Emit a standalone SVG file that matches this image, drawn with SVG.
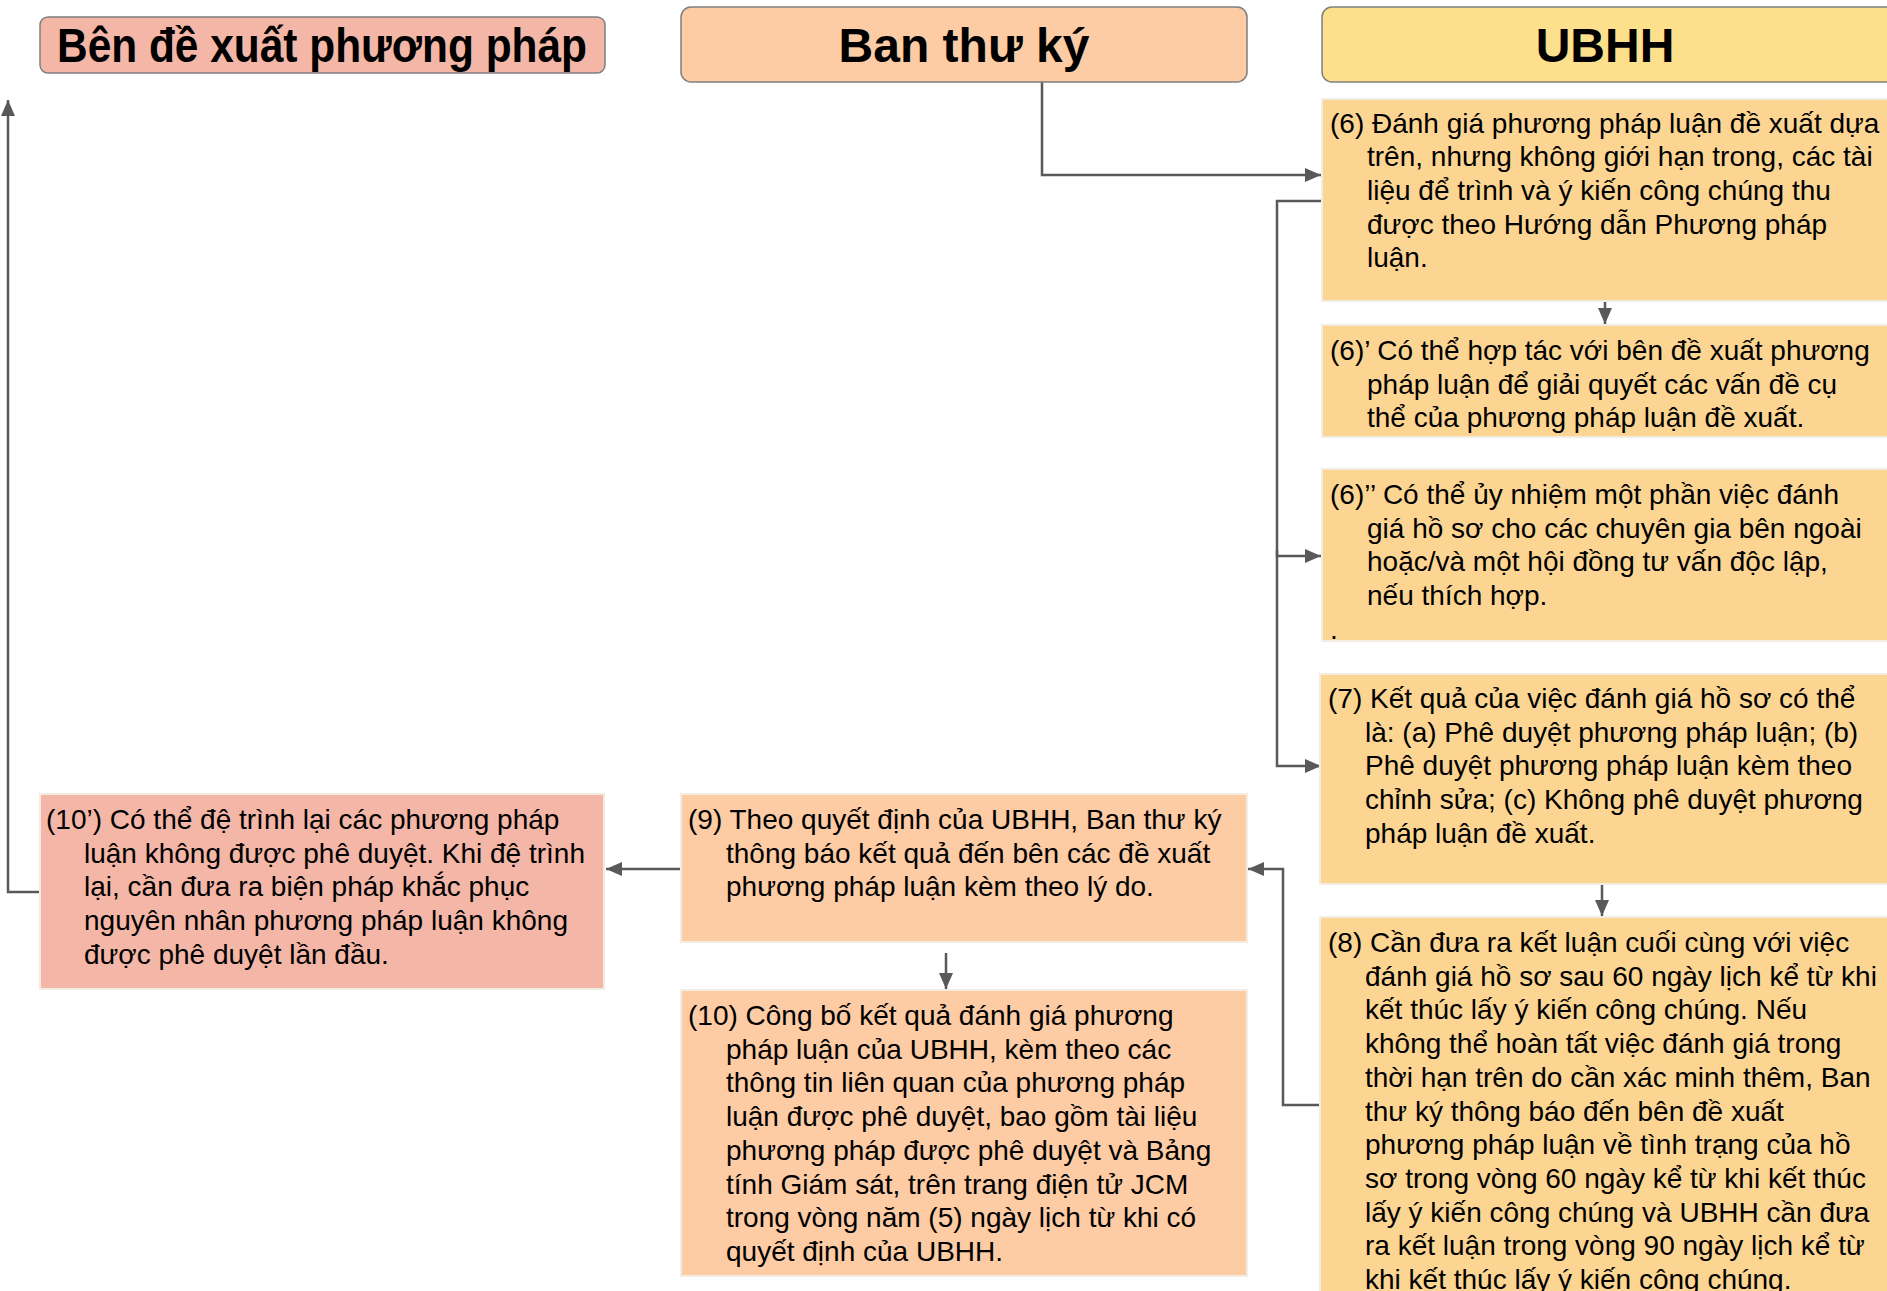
<svg xmlns="http://www.w3.org/2000/svg" width="1887" height="1291" viewBox="0 0 1887 1291">
<style>
.hdr{stroke:#7f7f7f;stroke-width:1.5}
.h{font-family:"Liberation Sans",Arial,sans-serif;font-weight:bold;font-size:48px;fill:#000;text-anchor:middle}
.t{font-family:"Liberation Sans",Arial,sans-serif;font-size:28px;fill:#000}
.box{stroke:#f2ece3;stroke-width:2}
.y{fill:#fdd592}
.p{fill:#fdcba4}
.s{fill:#f4b6a6}
.c{fill:none;stroke:#595959;stroke-width:2.5}
</style>
<defs>
<marker id="ah" markerUnits="userSpaceOnUse" markerWidth="16" markerHeight="14" refX="16" refY="7" orient="auto">
<path d="M0,0 L16,7 L0,14 z" fill="#595959"/>
</marker>
</defs>
<rect width="1887" height="1291" fill="#ffffff"/>

<g id="connectors">
<path class="c" d="M1042,82 V175 H1321" marker-end="url(#ah)"/>
<path class="c" d="M1322,201 H1277 V556 H1321" marker-end="url(#ah)"/>
<path class="c" d="M1277,550 V766 H1321" marker-end="url(#ah)"/>
<path class="c" d="M1605,301 V324" marker-end="url(#ah)"/>
<path class="c" d="M1602,884 V916" marker-end="url(#ah)"/>
<path class="c" d="M1320,1105 H1283 V869 H1248" marker-end="url(#ah)"/>
<path class="c" d="M681,869 H606" marker-end="url(#ah)"/>
<path class="c" d="M946,953 V989" marker-end="url(#ah)"/>
<path class="c" d="M40,892 H8 V100" marker-end="url(#ah)"/>
</g>

<g id="hdr-proponent">
<rect class="hdr s" x="40" y="17" width="565" height="56" rx="8"/>
<text class="h" x="322" y="62" font-size="47" textLength="530" lengthAdjust="spacingAndGlyphs">Bên đề xuất phương pháp</text>
</g>
<g id="hdr-secretariat">
<rect class="hdr p" x="681" y="7" width="566" height="75" rx="10"/>
<text class="h" x="964" y="62">Ban thư ký</text>
</g>
<g id="hdr-ubhh">
<rect class="hdr" fill="#fde08b" x="1322" y="7" width="580" height="75" rx="10"/>
<text class="h" x="1605" y="62">UBHH</text>
</g>

<g id="n6">
<rect class="box y" x="1322" y="99" width="580" height="202"/>
<text class="t" x="1330" y="132.6">(6) Đánh giá phương pháp luận đề xuất dựa<tspan x="1367" dy="33.7">trên, nhưng không giới hạn trong, các tài</tspan><tspan x="1367" dy="33.7">liệu để trình và ý kiến công chúng thu</tspan><tspan x="1367" dy="33.7">được theo Hướng dẫn Phương pháp</tspan><tspan x="1367" dy="33.7">luận.</tspan></text>
</g>
<g id="n6a">
<rect class="box y" x="1322" y="325" width="580" height="112"/>
<text class="t" x="1330" y="360">(6)’ Có thể hợp tác với bên đề xuất phương<tspan x="1367" dy="33.7">pháp luận để giải quyết các vấn đề cụ</tspan><tspan x="1367" dy="33.7">thể của phương pháp luận đề xuất.</tspan></text>
</g>
<g id="n6b">
<rect class="box y" x="1322" y="469" width="580" height="172"/>
<text class="t" x="1330" y="504">(6)’’ Có thể ủy nhiệm một phần việc đánh<tspan x="1367" dy="33.7">giá hồ sơ cho các chuyên gia bên ngoài</tspan><tspan x="1367" dy="33.7">hoặc/và một hội đồng tư vấn độc lập,</tspan><tspan x="1367" dy="33.7">nếu thích hợp.</tspan><tspan x="1330" dy="34">.</tspan></text>
</g>
<g id="n7">
<rect class="box y" x="1320" y="674" width="580" height="210"/>
<text class="t" x="1328" y="708">(7) Kết quả của việc đánh giá hồ sơ có thể<tspan x="1365" dy="33.7">là: (a) Phê duyệt phương pháp luận; (b)</tspan><tspan x="1365" dy="33.7">Phê duyệt phương pháp luận kèm theo</tspan><tspan x="1365" dy="33.7">chỉnh sửa; (c) Không phê duyệt phương</tspan><tspan x="1365" dy="33.7">pháp luận đề xuất.</tspan></text>
</g>
<g id="n8">
<rect class="box y" x="1320" y="917" width="580" height="390"/>
<text class="t" x="1328" y="952">(8) Cần đưa ra kết luận cuối cùng với việc<tspan x="1365" dy="33.7">đánh giá hồ sơ sau 60 ngày lịch kể từ khi</tspan><tspan x="1365" dy="33.7">kết thúc lấy ý kiến công chúng. Nếu</tspan><tspan x="1365" dy="33.7">không thể hoàn tất việc đánh giá trong</tspan><tspan x="1365" dy="33.7">thời hạn trên do cần xác minh thêm, Ban</tspan><tspan x="1365" dy="33.7">thư ký thông báo đến bên đề xuất</tspan><tspan x="1365" dy="33.7">phương pháp luận về tình trạng của hồ</tspan><tspan x="1365" dy="33.7">sơ trong vòng 60 ngày kể từ khi kết thúc</tspan><tspan x="1365" dy="33.7">lấy ý kiến công chúng và UBHH cần đưa</tspan><tspan x="1365" dy="33.7">ra kết luận trong vòng 90 ngày lịch kể từ</tspan><tspan x="1365" dy="33.7">khi kết thúc lấy ý kiến công chúng.</tspan></text>
</g>
<g id="n9">
<rect class="box p" x="681" y="794" width="566" height="148"/>
<text class="t" x="688" y="829">(9) Theo quyết định của UBHH, Ban thư ký<tspan x="726" dy="33.7">thông báo kết quả đến bên các đề xuất</tspan><tspan x="726" dy="33.7">phương pháp luận kèm theo lý do.</tspan></text>
</g>
<g id="n10">
<rect class="box p" x="681" y="990" width="566" height="286"/>
<text class="t" x="688" y="1025">(10) Công bố kết quả đánh giá phương<tspan x="726" dy="33.7">pháp luận của UBHH, kèm theo các</tspan><tspan x="726" dy="33.7">thông tin liên quan của phương pháp</tspan><tspan x="726" dy="33.7">luận được phê duyệt, bao gồm tài liệu</tspan><tspan x="726" dy="33.7">phương pháp được phê duyệt và Bảng</tspan><tspan x="726" dy="33.7">tính Giám sát, trên trang điện tử JCM</tspan><tspan x="726" dy="33.7">trong vòng năm (5) ngày lịch từ khi có</tspan><tspan x="726" dy="33.7">quyết định của UBHH.</tspan></text>
</g>
<g id="n10a">
<rect class="box s" x="40" y="794" width="564" height="195"/>
<text class="t" x="46" y="829">(10’) Có thể đệ trình lại các phương pháp<tspan x="84" dy="33.7">luận không được phê duyệt. Khi đệ trình</tspan><tspan x="84" dy="33.7">lại, cần đưa ra biện pháp khắc phục</tspan><tspan x="84" dy="33.7">nguyên nhân phương pháp luận không</tspan><tspan x="84" dy="33.7">được phê duyệt lần đầu.</tspan></text>
</g>
</svg>
